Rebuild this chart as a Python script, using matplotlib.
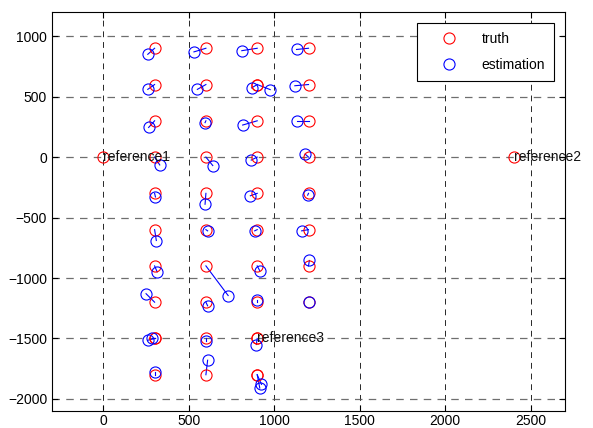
import matplotlib
matplotlib.use("Agg")
import matplotlib.pyplot as plt

plt.rcParams['font.family'] = ['Liberation Sans', 'DejaVu Sans']

# truth -> estimation pairs
truth_x = [300, 600, 900, 1200,
           300, 600, 900, 900, 1200,
           300, 600, 900, 1200,
           300, 600, 900, 1200,
           300, 600, 900, 1200,
           300, 600, 900, 1200,
           300, 600, 900, 1200,
           300, 600, 900, 1200,
           300, 300, 600, 900,
           300, 600, 900, 900]
truth_y = [900, 900, 900, 900,
           600, 600, 600, 600, 600,
           300, 300, 300, 300,
           0, 0, 0, 0,
           -300, -300, -300, -300,
           -600, -600, -600, -600,
           -900, -900, -900, -900,
           -1200, -1200, -1200, -1200,
           -1500, -1500, -1500, -1500,
           -1800, -1800, -1800, -1800]
est_x = [260, 530, 810, 1130,
         260, 550, 867, 976, 1120,
         265, 595, 815, 1130,
         330, 640, 865, 1180,
         305, 595, 860, 1195,
         310, 610, 885, 1160,
         315, 730, 915, 1205,
         250, 610, 900, 1200,
         285, 260, 600, 895,
         300, 610, 925, 915]
est_y = [850, 870, 880, 890,
         560, 560, 572, 558, 590,
         245, 285, 265, 300,
         -65, -70, -25, 25,
         -330, -390, -320, -315,
         -690, -610, -610, -610,
         -950, -1145, -940, -855,
         -1130, -1230, -1185, -1200,
         -1500, -1515, -1525, -1550,
         -1775, -1680, -1880, -1910]

ref_x = [0, 2400, 900]
ref_y = [0, 0, -1500]
ref_names = ['reference1', 'reference2', 'reference3']

x_ticks = [0, 500, 1000, 1500, 2000, 2500]
y_ticks = [-2000, -1500, -1000, -500, 0, 500, 1000]

fig = plt.figure(figsize=(5.93, 4.28), dpi=100)
ax = fig.add_axes([0.0877, 0.0397, 0.8651, 0.9323])

for tx, ty, ex, ey in zip(truth_x, truth_y, est_x, est_y):
    ax.plot([tx, ex], [ty, ey], color='blue', lw=0.8)

ms = 8
h1, = ax.plot(truth_x + ref_x, truth_y + ref_y, 'o', mfc='none', mec='red',
              ms=ms, mew=0.8, label='truth', linestyle='none')
h2, = ax.plot(est_x, est_y, 'o', mfc='none', mec='blue',
              ms=ms, mew=0.8, label='estimation', linestyle='none')

for rx, ry, name in zip(ref_x, ref_y, ref_names):
    ax.text(rx, ry, name, ha='left', va='center', fontsize=10, color='#111111')

ax.set_xlim(-300, 2700)
ax.set_ylim(-2100, 1200)
ax.set_xticks(x_ticks)
ax.set_yticks(y_ticks)
ax.tick_params(direction='in', labelsize=10, length=4, top=True, right=True)
ax.tick_params(axis='x', pad=2)
ax.xaxis.grid(True, color='black', linestyle=(0, (6, 5)), lw=0.7, alpha=0.85)
ax.yaxis.grid(True, color='#555555', linestyle=(0, (6, 5)), lw=0.9, alpha=0.85)
for s in ax.spines.values():
    s.set_linewidth(0.8)

leg = ax.legend(handles=[h1, h2], loc='upper right', fontsize=10,
                fancybox=False, framealpha=1, edgecolor='black',
                borderaxespad=0.8, handletextpad=0.6, handlelength=3.4,
                labelspacing=0.85, borderpad=0.65)
leg.get_frame().set_linewidth(0.8)

fig.savefig('out.png', dpi=100)
